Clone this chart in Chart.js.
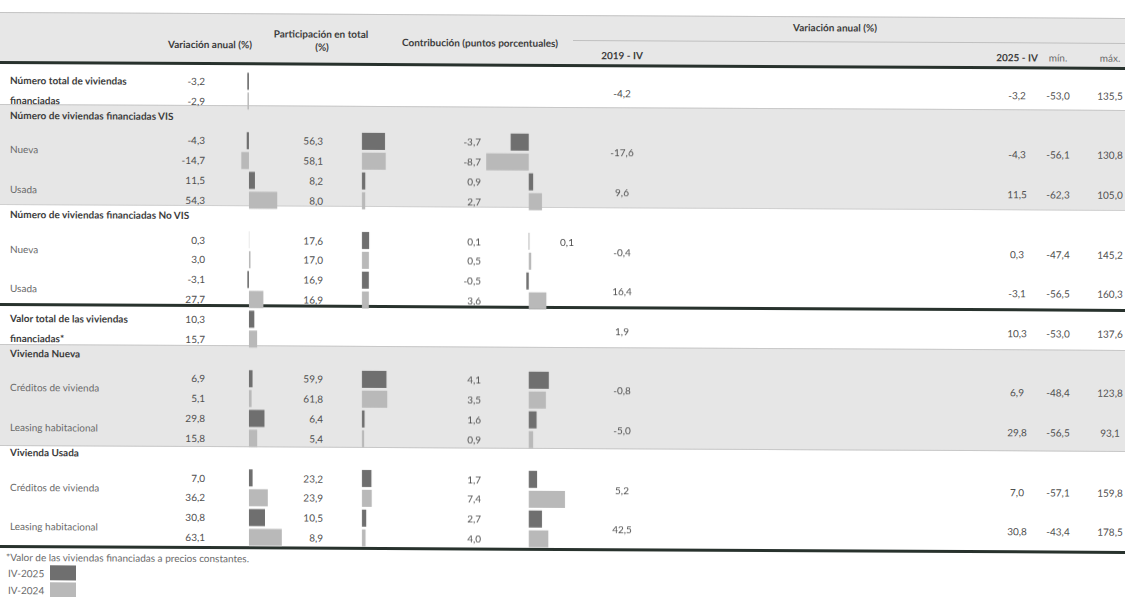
<!DOCTYPE html>
<html><head><meta charset="utf-8">
<script src="https://cdn.jsdelivr.net/npm/chart.js@4.4.1/dist/chart.umd.min.js"></script>
<style>
html,body{margin:0;padding:0;background:#fff;width:1125px;height:597px;overflow:hidden;}
#wrap{position:absolute;left:0;top:0;width:1125px;height:597px;transform-origin:0 0;transform:skewY(0.3deg);font-family:Lato,'Liberation Sans',sans-serif;color:#505050;}
.t{position:absolute;white-space:nowrap;font-size:10px;line-height:12px;}
.b{font-weight:bold;color:#3c3c3c;}
.s{color:#6a6a6a;}
.band{position:absolute;left:0;width:1125px;background:#e6e6e6;}
.hl{position:absolute;}
canvas{position:absolute;}
</style></head><body><div id="wrap">
<div class="band" style="top:12px;height:49px;background:#e7e7e7;border-top:1px solid #c4c4c4;"></div>
<div class="band" style="top:104px;height:99px;border-top:1px solid #c8c8c8;border-bottom:1px solid #d0d0d0;"></div>
<div class="band" style="top:344px;height:100px;border-top:1px solid #c8c8c8;border-bottom:1px solid #c8c8c8;"></div>
<div class="hl" style="left:573px;top:37px;width:552px;height:1px;background:#c0c0c0;"></div>
<div class="hl" style="left:0;top:61px;width:1125px;height:3px;background:#28322d;"></div>
<div class="hl" style="left:0;top:303px;width:1125px;height:3px;background:#28322d;"></div>
<div class="hl" style="left:0;top:545px;width:1125px;height:3px;background:#28322d;"></div>
<canvas id="c1" width="75" height="476" style="left:225px;top:70px;"></canvas>
<canvas id="c2" width="50" height="476" style="left:350px;top:70px;"></canvas>
<canvas id="c3" width="115" height="476" style="left:470px;top:70px;"></canvas>
</div>
<script>
// ---- data ----
const itemLabels = [["Número total de viviendas","financiadas"],"Nueva","Usada","Nueva","Usada",["Valor total de las viviendas","financiadas*"],"Créditos de vivienda","Leasing habitacional","Créditos de vivienda","Leasing habitacional"];
const sectionBefore = [null,"Número de viviendas financiadas VIS",null,"Número de viviendas financiadas No VIS",null,null,"Vivienda Nueva",null,"Vivienda Usada",null];
const seriesNames = ["IV-2025","IV-2024"];
const varAnual2025 = [-3.2,-4.3,11.5,0.3,-3.1,10.3,6.9,29.8,7.0,30.8];
const varAnual2024 = [-2.9,-14.7,54.3,3.0,27.7,15.7,5.1,15.8,36.2,63.1];
const part2025 = [null,56.3,8.2,17.6,16.9,null,59.9,6.4,23.2,10.5];
const part2024 = [null,58.1,8.0,17.0,16.9,null,61.8,5.4,23.9,8.9];
const contrib2025 = [null,-3.7,0.9,0.1,-0.5,null,4.1,1.6,1.7,2.7];
const contrib2024 = [null,-8.7,2.7,0.5,3.6,null,3.5,0.9,7.4,4.0];
const var2019IV = [-4.2,-17.6,9.6,-0.4,16.4,1.9,-0.8,-5.0,5.2,42.5];
const var2025IV = [-3.2,-4.3,11.5,0.3,-3.1,10.3,6.9,29.8,7.0,30.8];
const varMin = [-53.0,-56.1,-62.3,-47.4,-56.5,-53.0,-48.4,-56.5,-57.1,-43.4];
const varMax = [135.5,130.8,105.0,145.2,160.3,137.6,123.8,93.1,159.8,178.5];

// ---- slots ----
const slots = []; const itemSlot = []; const headerSlot = [];
itemLabels.forEach((l,i)=>{
  if(sectionBefore[i]){ headerSlot.push([slots.length,sectionBefore[i]]); slots.push('h'+i); }
  itemSlot.push(slots.length); slots.push(i+'a'); slots.push(i+'b');
});
function slotData(a25,a24){
  const d25 = slots.map(()=>null), d24 = slots.map(()=>null);
  itemSlot.forEach((s,i)=>{ d25[s]=a25[i]; d24[s+1]=a24[i]; });
  return [d25,d24];
}
const DARK='#6f6f6f', LIGHT='#b9b9b9';
function makeChart(id,a25,a24,min,max){
  const [d25,d24]=slotData(a25,a24);
  return new Chart(document.getElementById(id),{
    type:'bar',
    data:{labels:slots,datasets:[
      {label:seriesNames[0],data:d25,backgroundColor:DARK,skipNull:true,categoryPercentage:1,barPercentage:0.86},
      {label:seriesNames[1],data:d24,backgroundColor:LIGHT,skipNull:true,categoryPercentage:1,barPercentage:0.86}]},
    options:{indexAxis:'y',responsive:false,animation:false,events:[],
      layout:{padding:0},
      plugins:{legend:{display:false},tooltip:{enabled:false}},
      scales:{y:{display:false},x:{display:false,min:min,max:max}}}
  });
}
const ch1 = makeChart('c1',varAnual2025,varAnual2024,-46,98);
const ch2 = makeChart('c2',part2025,part2024,-29,93);
const ch3 = makeChart('c3',contrib2025,contrib2024,-12,11.5);

// ---- text ----
const wrap=document.getElementById('wrap');
const fmt=v=>v.toFixed(1).replace('.',',');
function txt(s,x,y,align,cls){
  const d=document.createElement('div'); d.className='t '+(cls||''); d.textContent=s;
  d.style.left=x+'px'; d.style.top=y+'px';
  const tx = align==='r'?'-100%':(align==='c'?'-50%':'0');
  d.style.transform='translate('+tx+',-50%)';
  wrap.appendChild(d);
  return d;
}
const TOP=70;
const sy=i=>TOP+ch1.scales.y.getPixelForValue(i);
// headers
txt('Variación anual (%)',210,43,'c','b');
txt('Participación en total',321,32,'c','b');
txt('(%)',322,45,'c','b');
txt('Contribución (puntos porcentuales)',480,40,'c','b');
txt('Variación anual (%)',835,23,'c','b');
txt('2019 - IV',622,52,'c','b');
txt('2025 - IV',1017,52,'c','b');
txt('mín.',1058,52,'c','s');
txt('máx.',1110,52,'c','s');
headerSlot.forEach(([s,l])=>txt(l,10,sy(s)-5,'l','b'));
itemLabels.forEach((l,i)=>{
  const s=itemSlot[i], ya=sy(s), yb=sy(s+1), ym=(ya+yb)/2;
  if(Array.isArray(l)){ txt(l[0],10,ya,'l','b'); txt(l[1],10,yb,'l','b'); }
  else txt(l,10,ym,'l','s');
  txt(fmt(varAnual2025[i]),205,ya,'r'); txt(fmt(varAnual2024[i]),205,yb,'r');
  if(part2025[i]!==null){ txt(fmt(part2025[i]),323,ya,'r'); txt(fmt(part2024[i]),323,yb,'r'); }
  if(contrib2025[i]!==null){ txt(fmt(contrib2025[i]),481,ya,'r'); txt(fmt(contrib2024[i]),481,yb,'r'); }
  txt(fmt(var2019IV[i]),622,ym,'c');
  txt(fmt(var2025IV[i]),1017,ym,'c');
  txt(fmt(varMin[i]),1058,ym,'c');
  txt(fmt(varMax[i]),1110,ym,'c');
});
txt('0,1',567,sy(itemSlot[3]),'c');
txt('*Valor de las viviendas financiadas a precios constantes.',6,557,'l','s');
// legend
[[seriesNames[0],DARK,573],[seriesNames[1],LIGHT,590]].forEach(([n,c,y])=>{
  txt(n,8,y,'l','s');
  const b=document.createElement('div'); b.style.cssText='position:absolute;left:50px;top:'+(y-8)+'px;width:26px;height:15px;background:'+c;
  wrap.appendChild(b);
});
</script>
</body></html>
